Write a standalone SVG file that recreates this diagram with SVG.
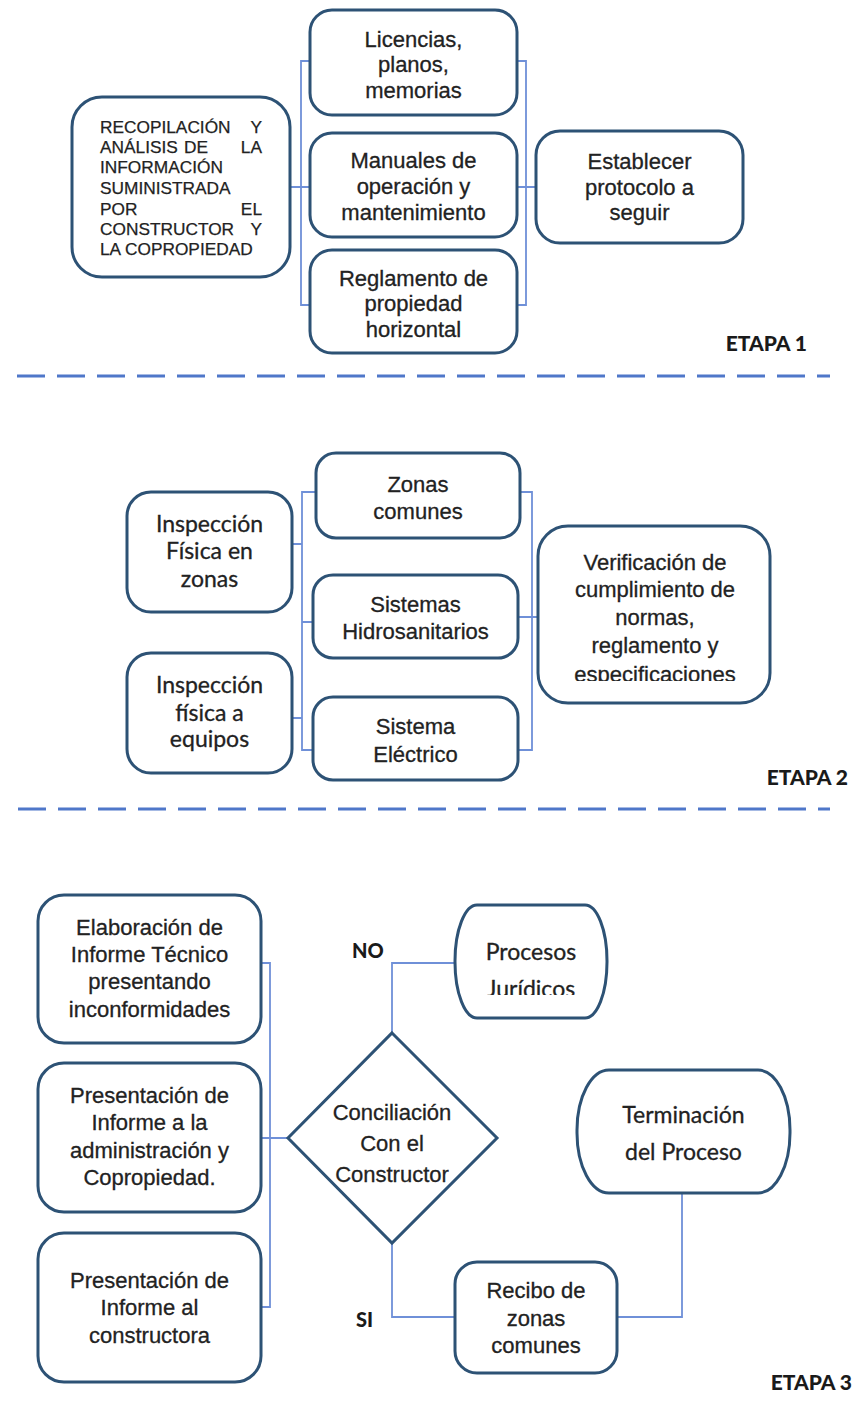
<svg xmlns="http://www.w3.org/2000/svg" width="857" height="1418" viewBox="0 0 857 1418">
  <defs>
    <style>
      .box { fill: #ffffff; stroke: #2d5275; stroke-width: 3; }
      .link { fill: none; stroke: #6f90d8; stroke-width: 1.8; }
      .sep { fill: none; stroke: #4f77c9; stroke-width: 3; stroke-dasharray: 28 12; }
      .t { font-family: "Liberation Sans", Arial, sans-serif; font-size: 22px; fill: #222222; stroke: #222222; stroke-width: 0.3; text-anchor: middle; }
      .c { font-family: Lato, "Open Sans", sans-serif; font-size: 23px; fill: #222222; stroke: #222222; stroke-width: 0.3; text-anchor: middle; }
      .caps { font-family: "Liberation Sans", Arial, sans-serif; font-size: 17.3px; fill: #222222; stroke: #222222; stroke-width: 0.25; }
      .stage { font-family: Lato, "Open Sans", sans-serif; font-size: 21px; font-weight: 900; fill: #1a1a1a; text-anchor: end; }
      .lbl { font-family: Lato, "Open Sans", sans-serif; font-size: 20px; font-weight: 900; fill: #1a1a1a; }
    </style>
    <clipPath id="clipVerif"><rect x="540" y="528" width="228" height="153"/></clipPath>
    <clipPath id="clipProc"><rect x="457" y="907" width="148" height="88"/></clipPath>
  </defs>
  <rect width="857" height="1418" fill="#ffffff"/>

  <!-- connectors -->
  <g id="connectors">
    <!-- stage 1 brackets -->
    <path class="link" d="M310 61 H301 V305 H310 M290 187 H310"/>
    <path class="link" d="M517 61 H526 V305 H517 M517 187 H536"/>
    <!-- stage 2 brackets -->
    <path class="link" d="M316 492 H302 V750 H313 M302 622 H313 M292 544 H302 M292 718 H302"/>
    <path class="link" d="M520 492 H532 V750 H518 M518 617 H538"/>
    <!-- stage 3 -->
    <path class="link" d="M261 963 H270 V1307 H261 M261 1138 H288"/>
    <path class="link" d="M392 1033 V963 H455"/>
    <path class="link" d="M392 1243 V1317 H455"/>
    <path class="link" d="M682 1193 V1317 H617"/>
  </g>

  <!-- stage separators -->
  <line class="sep" x1="17" y1="376" x2="830" y2="376"/>
  <line class="sep" x1="18" y1="809" x2="830" y2="809"/>

  <!-- ETAPA 1 -->
  <g id="recopilacion">
    <rect class="box" x="72" y="97" width="218" height="180" rx="30"/>
    <text class="caps" x="100" y="133">RECOPILACIÓN</text>
    <text class="caps" x="262" y="133" text-anchor="end">Y</text>
    <text class="caps" x="100" y="153">ANÁLISIS</text>
    <text class="caps" x="196" y="153" text-anchor="middle">DE</text>
    <text class="caps" x="262" y="153" text-anchor="end">LA</text>
    <text class="caps" x="100" y="173">INFORMACIÓN</text>
    <text class="caps" x="100" y="194">SUMINISTRADA</text>
    <text class="caps" x="100" y="215">POR</text>
    <text class="caps" x="262" y="215" text-anchor="end">EL</text>
    <text class="caps" x="100" y="235">CONSTRUCTOR</text>
    <text class="caps" x="262" y="235" text-anchor="end">Y</text>
    <text class="caps" x="100" y="255">LA COPROPIEDAD</text>
  </g>
  <g id="licencias">
    <rect class="box" x="310" y="10" width="207" height="105" rx="22"/>
    <text class="t" x="413.5" y="47">Licencias,</text>
    <text class="t" x="413.5" y="72">planos,</text>
    <text class="t" x="413.5" y="98">memorias</text>
  </g>
  <g id="manuales">
    <rect class="box" x="310" y="133" width="207" height="104" rx="22"/>
    <text class="t" x="413.5" y="168">Manuales de</text>
    <text class="t" x="413.5" y="194">operación y</text>
    <text class="t" x="413.5" y="220">mantenimiento</text>
  </g>
  <g id="reglamento">
    <rect class="box" x="310" y="250" width="207" height="103" rx="22"/>
    <text class="t" x="413.5" y="286">Reglamento de</text>
    <text class="t" x="413.5" y="311">propiedad</text>
    <text class="t" x="413.5" y="337">horizontal</text>
  </g>
  <g id="protocolo">
    <rect class="box" x="536" y="131" width="207" height="112" rx="24"/>
    <text class="t" x="639.5" y="169">Establecer</text>
    <text class="t" x="639.5" y="195">protocolo a</text>
    <text class="t" x="639.5" y="220">seguir</text>
  </g>
  <text class="stage" x="807" y="351">ETAPA 1</text>

  <!-- ETAPA 2 -->
  <g id="inspeccion-zonas">
    <rect class="box" x="127" y="492" width="165" height="120" rx="24"/>
    <text class="c" x="209.5" y="532" font-size="26">Inspección</text>
    <text class="c" x="209.5" y="559" font-size="26">Física en</text>
    <text class="c" x="209.5" y="587" font-size="26">zonas</text>
  </g>
  <g id="inspeccion-equipos">
    <rect class="box" x="127" y="653" width="165" height="120" rx="24"/>
    <text class="c" x="209.5" y="693" font-size="26">Inspección</text>
    <text class="c" x="209.5" y="721" font-size="26">física a</text>
    <text class="c" x="209.5" y="747" font-size="26">equipos</text>
  </g>
  <g id="zonas-comunes">
    <rect class="box" x="316" y="453" width="204" height="85" rx="20"/>
    <text class="t" x="418" y="492">Zonas</text>
    <text class="t" x="418" y="519">comunes</text>
  </g>
  <g id="hidrosanitarios">
    <rect class="box" x="313" y="575" width="205" height="83" rx="20"/>
    <text class="t" x="415.5" y="612">Sistemas</text>
    <text class="t" x="415.5" y="639">Hidrosanitarios</text>
  </g>
  <g id="electrico">
    <rect class="box" x="313" y="697" width="205" height="83" rx="20"/>
    <text class="t" x="415.5" y="734">Sistema</text>
    <text class="t" x="415.5" y="762">Eléctrico</text>
  </g>
  <g id="verificacion">
    <rect class="box" x="538" y="526" width="232" height="177" rx="30"/>
    <g clip-path="url(#clipVerif)">
      <text class="t" x="655" y="570">Verificación de</text>
      <text class="t" x="655" y="597">cumplimiento de</text>
      <text class="t" x="655" y="625">normas,</text>
      <text class="t" x="655" y="653">reglamento y</text>
      <text class="t" x="655" y="682">especificaciones</text>
    </g>
  </g>
  <text class="stage" x="848" y="785">ETAPA 2</text>

  <!-- ETAPA 3 -->
  <g id="informe-tecnico">
    <rect class="box" x="38" y="895" width="223" height="148" rx="26"/>
    <text class="t" x="149.5" y="935">Elaboración de</text>
    <text class="t" x="149.5" y="962">Informe Técnico</text>
    <text class="t" x="149.5" y="989">presentando</text>
    <text class="t" x="149.5" y="1017">inconformidades</text>
  </g>
  <g id="informe-administracion">
    <rect class="box" x="38" y="1063" width="223" height="149" rx="26"/>
    <text class="t" x="149.5" y="1103">Presentación de</text>
    <text class="t" x="149.5" y="1130">Informe a la</text>
    <text class="t" x="149.5" y="1158">administración y</text>
    <text class="t" x="149.5" y="1185">Copropiedad.</text>
  </g>
  <g id="informe-constructora">
    <rect class="box" x="38" y="1233" width="223" height="149" rx="26"/>
    <text class="t" x="149.5" y="1288">Presentación de</text>
    <text class="t" x="149.5" y="1315">Informe al</text>
    <text class="t" x="149.5" y="1343">constructora</text>
  </g>
  <g id="conciliacion">
    <polygon class="box" points="392,1033 497,1138 392,1243 288,1138"/>
    <text class="t" x="392" y="1120">Conciliación</text>
    <text class="t" x="392" y="1151">Con el</text>
    <text class="t" x="392" y="1182">Constructor</text>
  </g>
  <g id="procesos-juridicos">
    <rect class="box" x="455" y="905" width="152" height="113" rx="22" ry="56"/>
    <g clip-path="url(#clipProc)">
      <text class="c" x="531" y="960">Procesos</text>
      <text class="c" x="531" y="997">Jurídicos</text>
    </g>
  </g>
  <g id="terminacion">
    <rect class="box" x="577" y="1070" width="213" height="123" rx="32" ry="60"/>
    <text class="c" x="683.5" y="1123" font-size="24.5">Terminación</text>
    <text class="c" x="683.5" y="1160" font-size="24.5">del Proceso</text>
  </g>
  <g id="recibo">
    <rect class="box" x="455" y="1262" width="162" height="111" rx="22"/>
    <text class="t" x="536" y="1298">Recibo de</text>
    <text class="t" x="536" y="1326">zonas</text>
    <text class="t" x="536" y="1353">comunes</text>
  </g>
  <text class="lbl" x="352" y="958">NO</text>
  <text class="lbl" x="356" y="1327">SI</text>
  <text class="stage" x="852" y="1390">ETAPA 3</text>
</svg>
